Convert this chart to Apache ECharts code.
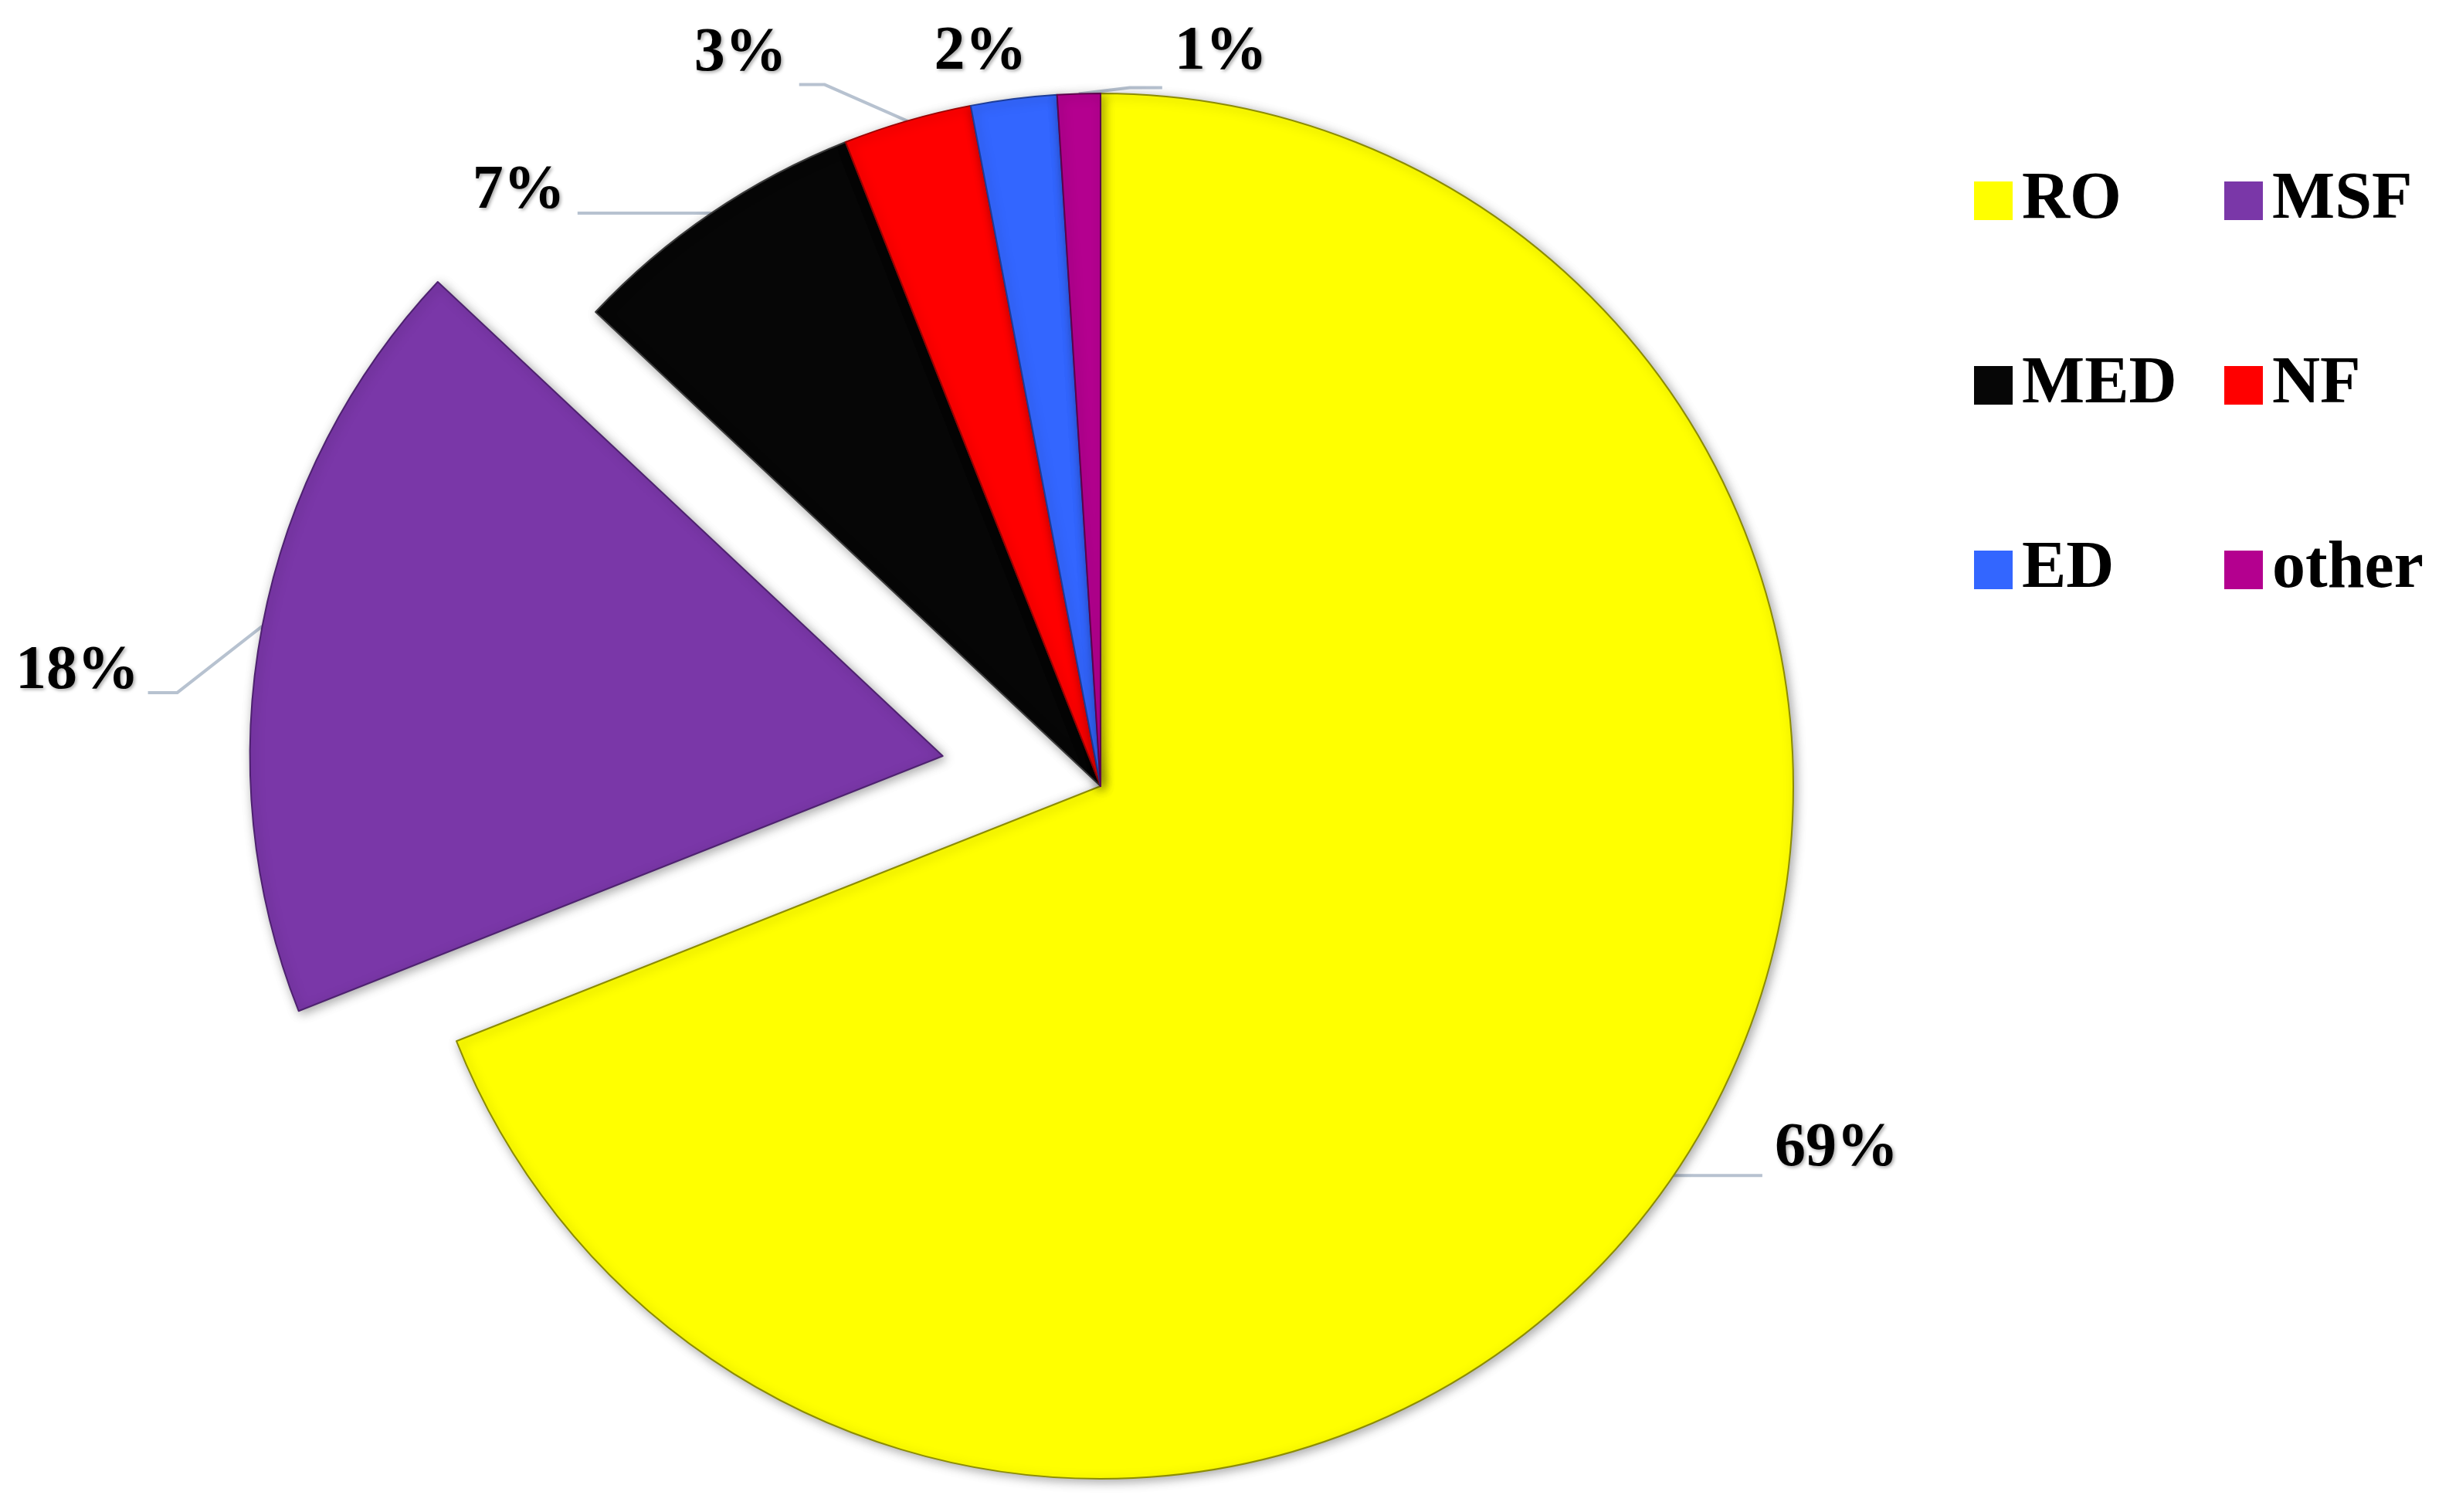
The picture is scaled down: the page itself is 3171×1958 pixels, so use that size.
<!DOCTYPE html>
<html>
<head>
<meta charset="utf-8">
<script src="https://cdn.jsdelivr.net/npm/echarts@6/dist/echarts.min.js"></script>
<style>
html, body { margin: 0; background: #fff; }
#main { width: 3171px; height: 1958px; }
</style>
</head>
<body>
<div id="main"></div>
<script>
var categories = ['RO', 'MSF', 'MED', 'NF', 'ED', 'other'];
var shares = [69, 18, 7, 3, 2, 1];
var colors = ['#ffff00', '#7a37a8', '#060606', '#ff0000', '#3366ff', '#b4008f'];
var edges = ['#8c8c00', '#4e2270', '#3a3a3a', '#9a0000', '#1d3d99', '#5e004b'];

// label line bends, relative to the anchor echarts gives: [dx, dy, horizontal run, text dy]
var bends = [
    [0, 0, 115, -34],
    [-110, 86, -38, -27],
    [0, 0, -173, -28],
    [-107, -47, -33, -39],
    null,
    [66, -8, 42, -45]
];

var chart = echarts.init(document.getElementById('main'));

var pieData = categories.map(function (name, i) {
    var item = {
        name: name,
        value: shares[i],
        itemStyle: {color: colors[i], borderColor: edges[i]}
    };
    if (name === 'MSF') {
        // exploded slice: its label keeps the default spot, so steer it with the line lengths
        item.selected = true;
        item.labelLine = {length: -315, length2: 464};
    }
    if (name === 'ED') item.labelLine = {show: false};
    return item;
});

var font = {
    fontFamily: 'Liberation Serif',
    fontWeight: 'bold',
    color: '#000'
};

var legendBase = {
    orient: 'vertical',
    top: 217,
    padding: 0,
    itemWidth: 50,
    itemHeight: 50,
    itemGap: 153,
    icon: 'rect',
    itemStyle: {borderWidth: 0, shadowBlur: 0},
    textStyle: Object.assign({fontSize: 86, lineHeight: 86, padding: [0, 0, 0, 7]}, font)
};

var option = {
    backgroundColor: '#fff',
    animation: false,
    legend: [
        Object.assign({left: 2556, data: ['RO', 'MED', 'ED']}, legendBase),
        Object.assign({left: 2880, data: ['MSF', 'NF', 'other']}, legendBase)
    ],
    series: [{
        type: 'pie',
        center: [1425, 1018],
        radius: [0, 897],
        startAngle: 90,
        clockwise: true,
        selectedMode: 'single',
        selectedOffset: 208,
        avoidLabelOverlap: false,
        emphasis: {disabled: true},
        itemStyle: {
            borderWidth: 2,
            shadowBlur: 14,
            shadowColor: 'rgba(0,0,0,0.35)',
            shadowOffsetX: 3,
            shadowOffsetY: 3
        },
        label: Object.assign({
            show: true,
            position: 'outside',
            fontSize: 80,
            formatter: '{d}%',
            textShadowBlur: 4,
            textShadowColor: 'rgba(0,0,0,0.35)',
            textShadowOffsetX: 2,
            textShadowOffsetY: 2
        }, font),
        labelLine: {
            show: true,
            length: 20,
            length2: 40,
            lineStyle: {color: '#b7c2d0', width: 4}
        },
        labelLayout: function (p) {
            var a = p.labelLinePoints && p.labelLinePoints[0];
            if (!a) return {};
            var b = bends[p.dataIndex];
            if (!b) {
                return {x: a[0] + 17, y: a[1] - 60, align: 'right', verticalAlign: 'middle'};
            }
            var p1 = [a[0] + b[0], a[1] + b[1]];
            var p2 = [p1[0] + b[2], p1[1]];
            var right = b[2] > 0;
            return {
                x: p2[0] + (right ? 16 : -16),
                y: p2[1] + b[3],
                align: right ? 'left' : 'right',
                verticalAlign: 'middle',
                labelLinePoints: [a, p1, p2]
            };
        },
        data: pieData
    }]
};

chart.setOption(option);
</script>
</body>
</html>
